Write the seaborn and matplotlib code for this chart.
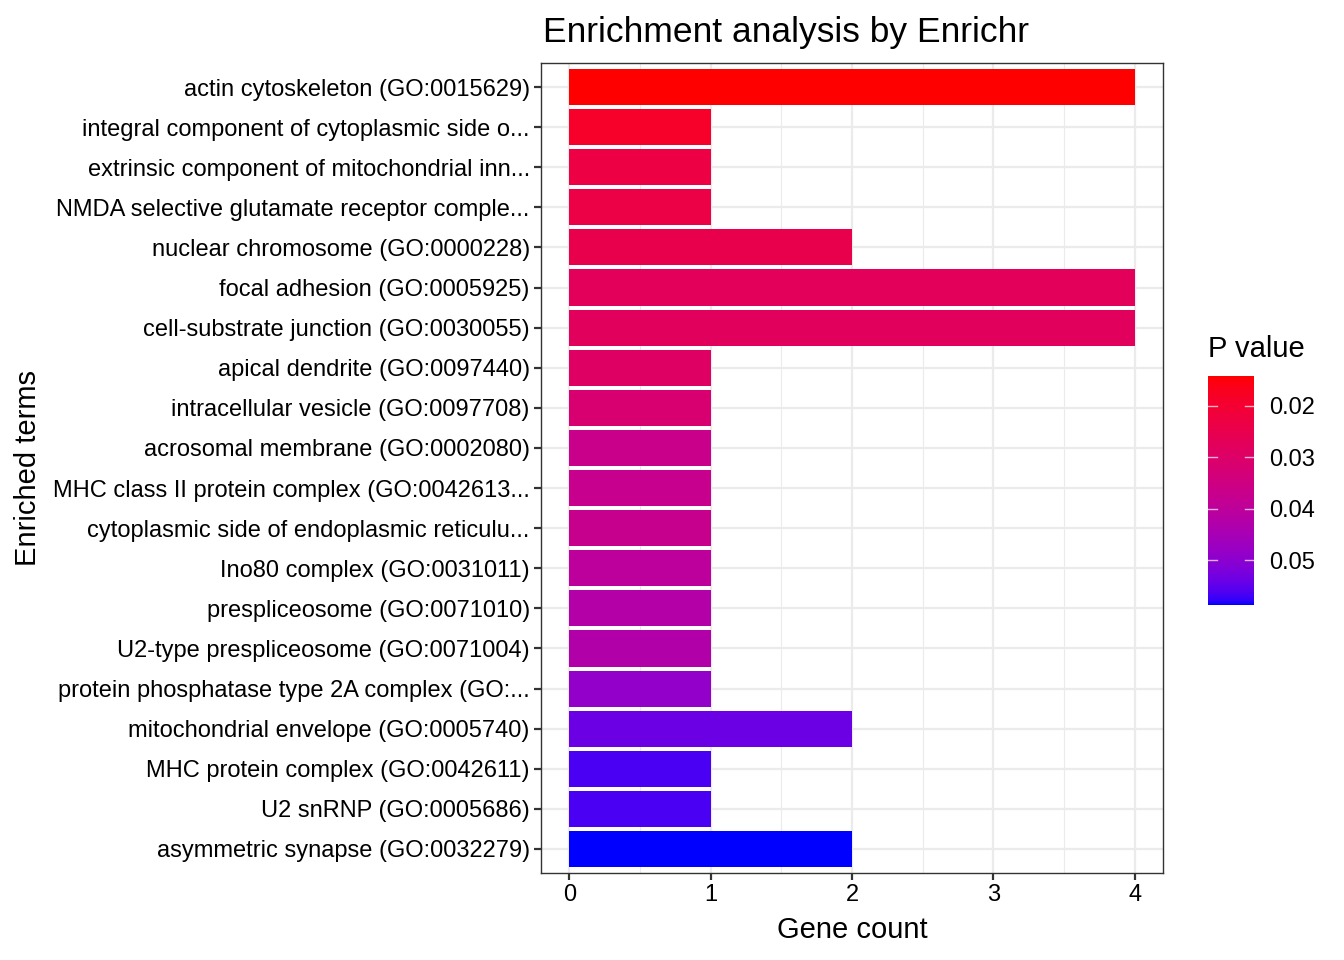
import numpy as np
import pandas as pd
import matplotlib
matplotlib.use('Agg')
import matplotlib.pyplot as plt
import seaborn as sns
from matplotlib.colors import ListedColormap, Normalize
from matplotlib.cm import ScalarMappable

terms = ['actin cytoskeleton (GO:0015629)',
         'integral component of cytoplasmic side o...',
         'extrinsic component of mitochondrial inn...',
         'NMDA selective glutamate receptor comple...',
         'nuclear chromosome (GO:0000228)',
         'focal adhesion (GO:0005925)',
         'cell-substrate junction (GO:0030055)',
         'apical dendrite (GO:0097440)',
         'intracellular vesicle (GO:0097708)',
         'acrosomal membrane (GO:0002080)',
         'MHC class II protein complex (GO:0042613...',
         'cytoplasmic side of endoplasmic reticulu...',
         'Ino80 complex (GO:0031011)',
         'prespliceosome (GO:0071010)',
         'U2-type prespliceosome (GO:0071004)',
         'protein phosphatase type 2A complex (GO:...',
         'mitochondrial envelope (GO:0005740)',
         'MHC protein complex (GO:0042611)',
         'U2 snRNP (GO:0005686)',
         'asymmetric synapse (GO:0032279)']
gene_count = [4, 1, 1, 1, 2, 4, 4, 1, 1, 1, 1, 1, 1, 1, 1, 1, 2, 1, 1, 2]
p_value = [0.0142, 0.0187, 0.0231, 0.0235, 0.0249, 0.0276, 0.0280, 0.0293, 0.0316, 0.0365,
           0.0373, 0.0374, 0.0400, 0.0422, 0.0427, 0.0489, 0.0538, 0.0565, 0.0566, 0.0587]
cbar_ticks = [0.02, 0.03, 0.04, 0.05]

df = pd.DataFrame({'term': terms, 'count': gene_count, 'p': p_value})


# red -> blue gradient interpolated in Lab space (like ggplot's scale_fill_gradient)
def srgb_to_lab(rgb):
    rgb = np.asarray(rgb, float)
    lin = np.where(rgb <= 0.04045, rgb / 12.92, ((rgb + 0.055) / 1.055) ** 2.4)
    M = np.array([[0.4124, 0.3576, 0.1805], [0.2126, 0.7152, 0.0722], [0.0193, 0.1192, 0.9505]])
    xyz = M @ lin / np.array([0.95047, 1.0, 1.08883])
    f = np.where(xyz > 0.008856, np.cbrt(xyz), 7.787 * xyz + 16 / 116)
    return np.array([116 * f[1] - 16, 500 * (f[0] - f[1]), 200 * (f[1] - f[2])])


def lab_to_srgb(lab):
    L, a, b = lab
    fy = (L + 16) / 116
    f = np.array([fy + a / 500, fy, fy - b / 200])
    xyz = np.where(f ** 3 > 0.008856, f ** 3, (f - 16 / 116) / 7.787) * np.array([0.95047, 1.0, 1.08883])
    Minv = np.array([[3.2406, -1.5372, -0.4986], [-0.9689, 1.8758, 0.0415], [0.0557, -0.2040, 1.0570]])
    lin = np.clip(Minv @ xyz, 0, 1)
    return np.clip(np.where(lin <= 0.0031308, 12.92 * lin, 1.055 * lin ** (1 / 2.4) - 0.055), 0, 1)


lab_lo, lab_hi = srgb_to_lab([1, 0, 0]), srgb_to_lab([0, 0, 1])
cmap = ListedColormap([lab_to_srgb(lab_lo + t * (lab_hi - lab_lo)) for t in np.linspace(0, 1, 256)])
norm = Normalize(vmin=min(p_value), vmax=max(p_value))
palette = {t: cmap(norm(p)) for t, p in zip(terms, p_value)}

plt.rcParams['font.family'] = ['Liberation Sans', 'DejaVu Sans']

fig = plt.figure(figsize=(13.44, 9.6), dpi=100)
ax = fig.add_axes([0.4025, 0.0906, 0.4628, 0.8438])

sns.barplot(data=df, x='count', y='term', hue='term', palette=palette, order=terms,
            legend=False, width=0.9, saturation=1, ax=ax, orient='h')

ax.set_xlim(-0.2, 4.2)
ax.set_ylim(len(terms) - 0.4, -0.6)
ax.set_xticks([0, 1, 2, 3, 4])
ax.set_xticks([0.5, 1.5, 2.5, 3.5], minor=True)
ax.set_axisbelow(True)
ax.grid(True, which='major', color='#EBEBEB', linewidth=1.6)
ax.grid(True, which='minor', axis='x', color='#EBEBEB', linewidth=0.8)
ax.tick_params(axis='both', which='major', length=5, width=1.6, color='#333333',
               labelsize=17, labelcolor='black', pad=3)
ax.tick_params(axis='x', which='minor', length=0)
for s in ax.spines.values():
    s.set_color('#333333')
    s.set_linewidth(1.0)

ax.set_xlabel('Gene count', fontsize=21, labelpad=7)
ax.set_ylabel('Enriched terms', fontsize=21, labelpad=8)
ax.set_title('Enrichment analysis by Enrichr', fontsize=25.5, loc='left', pad=15, x=0.003)

# colour bar (small p at the top)
cax = fig.add_axes([0.8988, 0.3698, 0.0342, 0.2385])
cb = fig.colorbar(ScalarMappable(norm=norm, cmap=cmap), cax=cax)
cb.outline.set_visible(False)
cax.invert_yaxis()
cb.set_ticks(cbar_ticks)
cb.set_ticklabels(['0.02', '0.03', '0.04', '0.05'])
cax.tick_params(length=0, labelsize=17, pad=11)
for v in cbar_ticks:
    cax.plot([0, 0.2], [v, v], color='white', lw=1, alpha=0.7, transform=cax.get_yaxis_transform())
    cax.plot([0.8, 1.0], [v, v], color='white', lw=1, alpha=0.7, transform=cax.get_yaxis_transform())
fig.text(0.8988, 0.622, 'P value', fontsize=21, ha='left', va='bottom')

fig.savefig('out.png', dpi=100)
